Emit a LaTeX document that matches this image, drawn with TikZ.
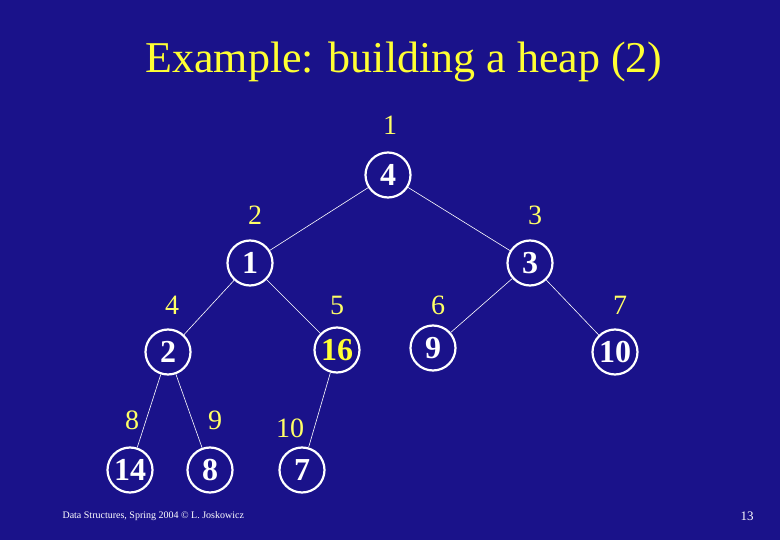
\documentclass[tikz,border=0pt]{standalone}
\usepackage{fontspec}
\setmainfont{Liberation Serif}
\usetikzlibrary{positioning}
\definecolor{cbg}{HTML}{1A128A}
\definecolor{cyel}{HTML}{FFFF33}
\definecolor{cidx}{HTML}{FFFF66}

\begin{document}
\begin{tikzpicture}[
  x=1pt, y=-1pt,
  heapnode/.style={circle, draw=white, line width=2.2pt, minimum size=45pt, inner sep=0pt,
                   text=white, font=\fontsize{32}{33}\selectfont\bfseries},
  hot/.style={heapnode, text=cyel},
  idx/.style={text=cidx, font=\fontsize{28}{30}\selectfont, inner sep=0pt},
  edge/.style={draw=white, line width=0.6pt},
  ]
\fill[cbg] (0,0) rectangle (780,540);
\useasboundingbox (0,0) rectangle (780,540);

\node[text=cyel, font=\fontsize{44}{50}\selectfont] (title) at (404,62) {Example: building a heap (2)};

% heap nodes
\node[heapnode] (n1) at (388,175) {4};
\node[heapnode] (n2) at (250,263) {1};
\node[heapnode] (n3) at (530,263) {3};
\node[heapnode] (n4) at (168,352) {2};
\node[hot]      (n5) at (337,350) {16};
\node[heapnode] (n6) at (433,348) {9};
\node[heapnode] (n7) at (615,352) {10};
\node[heapnode] (n8) at (130,470) {14};
\node[heapnode] (n9) at (210,470) {8};
\node[heapnode] (n10) at (302,470) {7};

% array indices
\node[idx] (i1) at (390,125) {1};
\node[idx] (i2) at (255,215) {2};
\node[idx] (i3) at (535,215) {3};
\node[idx] (i4) at (172,305) {4};
\node[idx] (i5) at (337,305) {5};
\node[idx] (i6) at (438,305) {6};
\node[idx] (i7) at (620,305) {7};
\node[idx] (i8) at (132,420) {8};
\node[idx] (i9) at (215,420) {9};
\node[idx] (i10) at (290,428) {10};

\draw[edge] (n1) -- (n2);
\draw[edge] (n1) -- (n3);
\draw[edge] (n2) -- (n4);
\draw[edge] (n2) -- (n5);
\draw[edge] (n3) -- (n6);
\draw[edge] (n3) -- (n7);
\draw[edge] (n4) -- (n8);
\draw[edge] (n4) -- (n9);
\draw[edge] (n5) -- (n10);

\node[text=white, font=\fontsize{10}{11}\selectfont, anchor=west] (foot) at (59,516) {Data Structures, Spring 2004 \textcopyright{} L. Joskowicz};
\node[text=white, font=\fontsize{13}{14}\selectfont] (page) at (747,516) {13};
\end{tikzpicture}
\end{document}
